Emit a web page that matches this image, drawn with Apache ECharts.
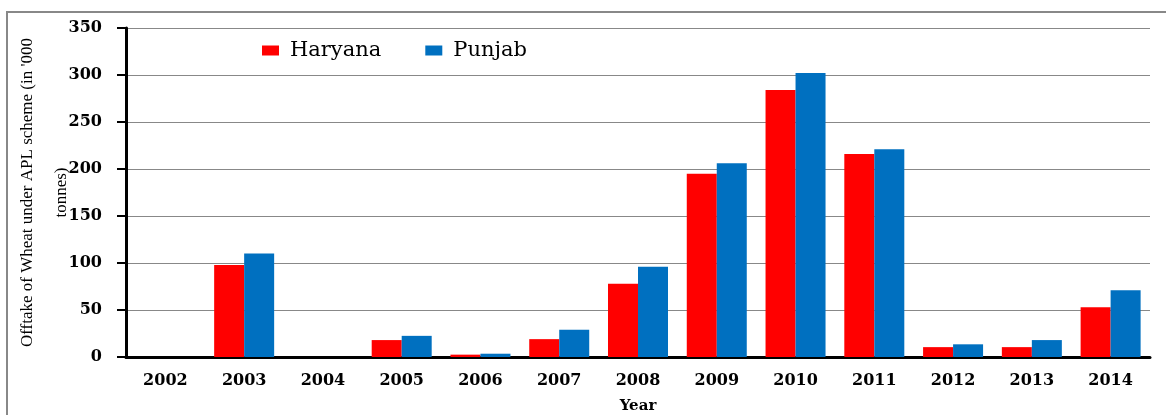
<!DOCTYPE html>
<html>
<head>
<meta charset="utf-8">
<script src="https://cdn.jsdelivr.net/npm/echarts@6/dist/echarts.min.js"></script>
<style>
  html, body { margin: 0; padding: 0; background: #fff; }
  #chart { width: 1166px; height: 415px; }
</style>
</head>
<body>
<div id="chart"></div>
<script>
// data ('000 tonnes)
var years = ['2002', '2003', '2004', '2005', '2006', '2007', '2008', '2009', '2010', '2011', '2012', '2013', '2014']
var haryana = [0, 98, 0, 18, 2.5, 19, 78, 195, 284, 216, 10.5, 10.5, 53]
var punjab = [0, 110, 0, 22.5, 3.5, 29, 96, 206, 302, 221, 13.5, 18, 71]
var yTicks = [0, 50, 100, 150, 200, 250, 300, 350]

var chart = echarts.init(document.getElementById('chart'))

var option = {
  backgroundColor: '#fff',
  animation: false,
  color: ['#FF0000', '#0070C0'],
  graphic: [
    {
      type: 'polyline',
      shape: { points: [[7, 415], [7, 12], [1166, 12]] },
      style: { stroke: '#888', lineWidth: 2, fill: null }
    }
  ],
  legend: {
    left: 257,
    top: 35,
    itemWidth: 17,
    itemHeight: 10,
    itemGap: 44,
    icon: 'rect',
    textStyle: {
      fontFamily: 'DejaVu Serif',
      fontSize: 21,
      color: '#000',
      padding: [0, 0, 0, 6]
    },
    data: ['Haryana', 'Punjab']
  },
  grid: {
    left: 126,
    right: 16,
    top: 28,
    bottom: 58,
    containLabel: false,
    outerBoundsMode: 'none'
  },
  xAxis: {
    type: 'category',
    data: years,
    name: 'Year',
    nameLocation: 'middle',
    nameGap: 42,
    nameTextStyle: {
      fontFamily: 'DejaVu Serif',
      fontWeight: 'bold',
      fontSize: 15,
      color: '#000'
    },
    axisLine: { lineStyle: { color: '#000', width: 3 } },
    axisTick: { length: 4, lineStyle: { color: '#000', width: 3 } },
    axisLabel: {
      margin: 16,
      fontFamily: 'DejaVu Serif',
      fontWeight: 'bold',
      fontSize: 16,
      color: '#000'
    }
  },
  yAxis: {
    type: 'value',
    min: 0,
    max: 350,
    interval: 50,
    name: "Offtake of Wheat under APL scheme (in '000\ntonnes)",
    nameLocation: 'middle',
    nameGap: 47,
    nameMoveOverlap: false,
    nameTextStyle: {
      fontFamily: 'Liberation Serif',
      fontSize: 17,
      lineHeight: 34,
      color: '#000'
    },
    axisLine: { show: true, lineStyle: { color: '#000', width: 3 } },
    axisTick: { show: true, length: 9, lineStyle: { color: '#000', width: 2 } },
    axisLabel: {
      margin: 24,
      fontFamily: 'DejaVu Serif',
      fontWeight: 'bold',
      fontSize: 16,
      color: '#000',
      formatter: function (v) {
        return yTicks.indexOf(v) > -1 ? String(v) : ''
      }
    },
    splitLine: { show: true, lineStyle: { color: '#888', width: 1 } }
  },
  series: [
    {
      name: 'Haryana',
      type: 'bar',
      barWidth: 30,
      barGap: '0%',
      data: haryana
    },
    {
      name: 'Punjab',
      type: 'bar',
      barWidth: 30,
      barGap: '0%',
      data: punjab
    }
  ]
}

chart.setOption(option)
</script>
</body>
</html>
